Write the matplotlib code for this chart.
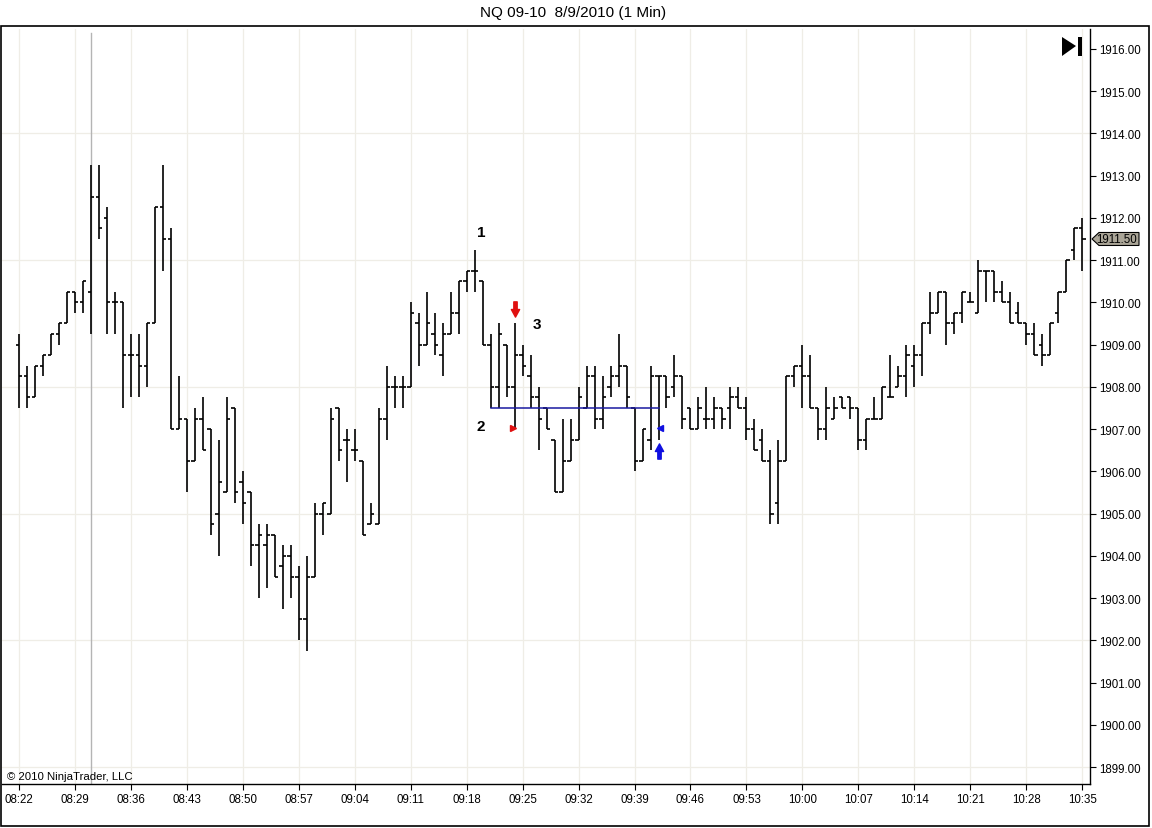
import numpy as np
import matplotlib
matplotlib.use('Agg')
import matplotlib.pyplot as plt
from matplotlib.collections import LineCollection
from matplotlib.path import Path
from matplotlib.patches import Rectangle, Polygon

plt.rcParams['font.family'] = ['Liberation Sans', 'DejaVu Sans']

# 1 minute bars, 08:22 .. 10:35
opens = [1909.0, 1908.25, 1907.75, 1908.5, 1908.75, 1909.25, 1909.5, 1910.25, 1910.0, 1910.25,
         1912.5, 1912.0, 1910.0, 1910.0, 1908.75, 1908.75, 1908.5, 1909.5, 1912.25, 1911.5,
         1907.0, 1907.25, 1906.25, 1907.25, 1907.0, 1905.0, 1905.5, 1907.5, 1905.75, 1905.5,
         1904.25, 1904.25, 1904.5, 1903.75, 1904.0, 1903.5, 1902.5, 1903.5, 1905.0, 1905.0,
         1907.5, 1906.75, 1906.5, 1906.25, 1904.75, 1904.75, 1907.25, 1908.0, 1908.0, 1908.0,
         1909.5, 1909.0, 1909.25, 1908.75, 1909.25, 1909.75, 1910.5, 1910.75, 1910.5, 1909.0,
         1908.0, 1909.0, 1908.0, 1908.75, 1908.25, 1907.75, 1907.5, 1906.75, 1905.5, 1906.25,
         1906.75, 1907.5, 1908.25, 1907.25, 1908.0, 1908.25, 1908.5, 1907.5, 1906.25, 1906.75,
         1908.25, 1908.25, 1908.0, 1908.25, 1907.5, 1907.0, 1907.25, 1907.25, 1907.5, 1907.5,
         1907.75, 1907.5, 1907.0, 1906.75, 1906.25, 1905.25, 1906.25, 1908.25, 1908.5, 1908.25,
         1907.5, 1907.0, 1907.25, 1907.75, 1907.75, 1907.5, 1906.75, 1907.25, 1907.25, 1907.75,
         1908.0, 1908.25, 1908.5, 1908.75, 1909.5, 1909.75, 1910.25, 1909.5, 1909.75, 1910.0,
         1909.75, 1910.75, 1910.75, 1910.25, 1910.0, 1909.75, 1909.5, 1909.25, 1909.0, 1908.75,
         1909.75, 1910.25, 1911.25, 1911.75]
highs = [1909.25, 1908.5, 1908.5, 1908.75, 1909.25, 1909.5, 1910.25, 1910.25, 1910.5, 1913.25,
         1913.25, 1912.25, 1910.25, 1910.0, 1909.25, 1909.25, 1909.5, 1912.25, 1913.25, 1911.75,
         1908.25, 1907.25, 1907.5, 1907.75, 1907.0, 1906.75, 1907.75, 1907.5, 1906.0, 1905.5,
         1904.75, 1904.75, 1904.5, 1904.25, 1904.25, 1903.75, 1904.0, 1905.25, 1905.25, 1907.5,
         1907.5, 1907.0, 1907.0, 1906.25, 1905.25, 1907.5, 1908.5, 1908.25, 1908.25, 1910.0,
         1909.75, 1910.25, 1909.75, 1909.5, 1910.25, 1910.5, 1910.75, 1911.25, 1910.5, 1909.25,
         1909.5, 1909.0, 1909.5, 1909.0, 1908.75, 1908.0, 1907.5, 1906.75, 1907.25, 1907.25,
         1908.0, 1908.5, 1908.5, 1908.25, 1908.5, 1909.25, 1908.5, 1907.5, 1907.0, 1908.5,
         1908.25, 1908.25, 1908.75, 1908.25, 1907.5, 1907.75, 1908.0, 1907.75, 1907.5, 1908.0,
         1908.0, 1907.75, 1907.25, 1907.0, 1906.5, 1906.75, 1908.25, 1908.5, 1909.0, 1908.75,
         1907.5, 1908.0, 1907.75, 1907.75, 1907.75, 1907.5, 1907.25, 1907.75, 1908.0, 1908.75,
         1908.5, 1909.0, 1909.0, 1909.5, 1910.25, 1910.25, 1910.25, 1909.75, 1910.25, 1910.25,
         1911.0, 1910.75, 1910.75, 1910.5, 1910.25, 1910.0, 1909.5, 1909.5, 1909.25, 1909.5,
         1910.25, 1911.0, 1911.75, 1912.0]
lows = [1907.5, 1907.5, 1907.75, 1908.25, 1908.75, 1909.0, 1909.5, 1909.75, 1909.75, 1909.25,
        1911.5, 1909.25, 1909.25, 1907.5, 1907.75, 1907.75, 1908.0, 1909.5, 1910.75, 1907.0,
        1907.0, 1905.5, 1906.25, 1906.5, 1904.5, 1904.0, 1905.5, 1905.25, 1904.75, 1903.75,
        1903.0, 1903.25, 1903.5, 1902.75, 1903.0, 1902.0, 1901.75, 1903.5, 1904.5, 1905.0,
        1906.25, 1905.75, 1906.25, 1904.5, 1904.75, 1904.75, 1906.75, 1907.5, 1907.5, 1908.0,
        1908.5, 1909.0, 1908.75, 1908.25, 1909.25, 1909.25, 1910.25, 1910.25, 1909.0, 1907.5,
        1907.5, 1907.75, 1907.0, 1908.25, 1907.5, 1906.5, 1907.0, 1905.5, 1905.5, 1906.25,
        1906.75, 1907.5, 1907.0, 1907.0, 1907.75, 1908.0, 1907.5, 1906.0, 1906.25, 1906.5,
        1906.75, 1907.5, 1907.75, 1907.0, 1907.0, 1907.0, 1907.0, 1907.0, 1907.0, 1907.0,
        1907.5, 1906.75, 1906.5, 1906.25, 1904.75, 1904.75, 1906.25, 1908.0, 1907.5, 1907.5,
        1906.75, 1906.75, 1907.25, 1907.5, 1907.25, 1906.5, 1906.5, 1907.25, 1907.25, 1907.75,
        1908.0, 1907.75, 1908.0, 1908.25, 1909.25, 1909.75, 1909.0, 1909.25, 1909.5, 1910.0,
        1909.75, 1910.0, 1910.0, 1910.0, 1909.5, 1909.5, 1909.0, 1908.75, 1908.5, 1908.75,
        1909.5, 1910.25, 1911.0, 1910.75]
closes = [1908.25, 1907.75, 1908.5, 1908.75, 1909.25, 1909.5, 1910.25, 1910.0, 1910.5, 1912.5,
          1911.75, 1910.0, 1910.0, 1908.75, 1908.75, 1908.5, 1909.5, 1912.25, 1911.5, 1907.0,
          1907.25, 1906.25, 1907.25, 1906.5, 1904.75, 1905.75, 1907.25, 1905.5, 1905.25, 1904.25,
          1904.5, 1904.5, 1903.5, 1904.0, 1903.5, 1902.5, 1903.5, 1905.0, 1905.25, 1907.25,
          1906.5, 1906.75, 1906.5, 1904.5, 1905.0, 1907.25, 1908.0, 1908.0, 1908.0, 1909.75,
          1909.0, 1909.5, 1909.0, 1909.25, 1909.75, 1910.5, 1910.75, 1910.75, 1909.0, 1908.0,
          1909.25, 1908.0, 1908.75, 1908.5, 1907.75, 1907.25, 1907.0, 1905.5, 1906.25, 1906.75,
          1907.75, 1908.25, 1907.25, 1907.75, 1908.25, 1908.5, 1907.75, 1906.25, 1907.0, 1908.25,
          1908.25, 1907.75, 1908.25, 1907.25, 1907.0, 1907.5, 1907.25, 1907.5, 1907.25, 1907.75,
          1907.5, 1907.0, 1906.5, 1906.25, 1905.0, 1906.25, 1908.25, 1908.5, 1908.25, 1907.5,
          1907.0, 1907.5, 1907.5, 1907.5, 1907.5, 1906.75, 1907.25, 1907.25, 1908.0, 1907.75,
          1908.25, 1908.75, 1908.75, 1909.5, 1909.75, 1910.25, 1909.5, 1909.75, 1910.25, 1910.0,
          1910.75, 1910.75, 1910.25, 1910.0, 1909.5, 1909.5, 1909.25, 1908.75, 1908.75, 1909.5,
          1910.25, 1911.0, 1911.75, 1911.5]

time_labels = ['08:22', '08:29', '08:36', '08:43', '08:50', '08:57', '09:04', '09:11', '09:18',
               '09:25', '09:32', '09:39', '09:46', '09:53', '10:00', '10:07', '10:14', '10:21',
               '10:28', '10:35']
price_ticks = np.arange(1899, 1917, 1.0)
grid_prices = np.arange(1899, 1917, 3.0)

# drawn objects (bar index / price)
session_bar = 9
line_start, line_end, line_price = 59, 80.1, 1907.5
last_price = closes[-1]

W, H = 1152, 829
fig = plt.figure(figsize=(W / 100, H / 100), dpi=100)
ax = fig.add_axes([1.5 / W, 1 - 785 / H, (1090 - 1.5) / W, (785 - 30) / H])

n = len(opens)
x = np.arange(n)
tk = 0.4
segs = []
for i in range(n):
    segs.append([(x[i], lows[i]), (x[i], highs[i])])
    segs.append([(x[i] - tk, opens[i]), (x[i], opens[i])])
    segs.append([(x[i], closes[i]), (x[i] + tk, closes[i])])
ax.add_collection(LineCollection(segs, colors='black', linewidths=1.2, zorder=3))

ax.set_xlim(-2.16, 133.96)
ax.set_ylim(1898.60, 1916.47)

# grid
xt = np.arange(0, n, 7)
for v in xt:
    ax.axvline(v, color='#efede6', lw=0.9, zorder=0)
for p in grid_prices:
    ax.axhline(p, color='#efede6', lw=0.9, zorder=0)
ax.axvline(session_bar, ymax=0.995, color='#b4b4b4', lw=1.0, zorder=1)

ax.set_xticks(xt)
ax.set_xticklabels(time_labels, fontsize=8.3)
ax.yaxis.tick_right()
ax.set_yticks(price_ticks)
ax.set_yticklabels(['%.2f' % p for p in price_ticks], fontsize=8.3)
ax.tick_params(axis='both', length=4, width=0.8, color='black', pad=2.5)
for s in ['left', 'top']:
    ax.spines[s].set_visible(False)
ax.spines['right'].set_linewidth(1.0)
ax.spines['bottom'].set_linewidth(1.0)

# annotations
ax.plot([line_start, line_end], [line_price, line_price], color='#1a1aa0', lw=1.1, zorder=4)
ax.text(57.8, 1911.67, '1', fontsize=11, fontweight='bold', ha='center', va='center')
ax.text(57.8, 1907.07, '2', fontsize=11, fontweight='bold', ha='center', va='center')
ax.text(64.8, 1909.49, '3', fontsize=11, fontweight='bold', ha='center', va='center')

down = Path([(-0.11, 0.5), (0.11, 0.5), (0.11, 0.0), (0.27, 0.0), (0, -0.5),
             (-0.27, 0.0), (-0.11, 0.0), (-0.11, 0.5)],
            [Path.MOVETO] + [Path.LINETO] * 6 + [Path.CLOSEPOLY])
up = Path(down.vertices * [1, -1], down.codes)
ax.plot(62, 1909.84, marker=down, color='#e01010', markersize=11, zorder=5)
ax.plot(80.1, 1906.48, marker=up, color='#1010e0', markersize=11, zorder=5)
ax.plot(61.8, 1907.03, marker='>', color='#e01010', markersize=4, zorder=5)
ax.plot(80.2, 1907.03, marker='<', color='#1010e0', markersize=4, zorder=5)

ax.text(0.005, 0.004, '\u00a9 2010 NinjaTrader, LLC', transform=ax.transAxes,
        fontsize=8.2, ha='left', va='bottom')

# last price marker on the price scale
yb = ax.transData.transform((0, last_price))[1]
tip = 1092
poly = Polygon([(tip, yb), (tip + 7, yb + 6.5), (1139, yb + 6.5), (1139, yb - 6.5),
                (tip + 7, yb - 6.5)], closed=True, transform=None,
               facecolor='#aaa597', edgecolor='black', lw=0.8, zorder=6)
fig.patches.append(poly)
fig.text(1117 / W, yb / H, '%.2f' % last_price, fontsize=8.3, ha='center', va='center',
         zorder=7)

# play-to-end icon
tri = Polygon([(1062 / W, 1 - 38 / H), (1076 / W, 1 - 47 / H), (1062 / W, 1 - 57 / H)],
              closed=True, transform=fig.transFigure, facecolor='black', edgecolor='none')
fig.patches.append(tri)
fig.patches.append(Rectangle((1078 / W, 1 - 57 / H), 3.5 / W, 19 / H,
                             transform=fig.transFigure, facecolor='black'))

# outer frame and title
fig.patches.append(Rectangle((1 / W, 1 - 827 / H), 1148 / W, 800 / H, transform=fig.transFigure,
                             fill=False, edgecolor='black', lw=1.2))
fig.text(573 / W, 1 - 13 / H, 'NQ 09-10  8/9/2010 (1 Min)', fontsize=11,
         ha='center', va='center')

fig.savefig('out.png', dpi=100)
